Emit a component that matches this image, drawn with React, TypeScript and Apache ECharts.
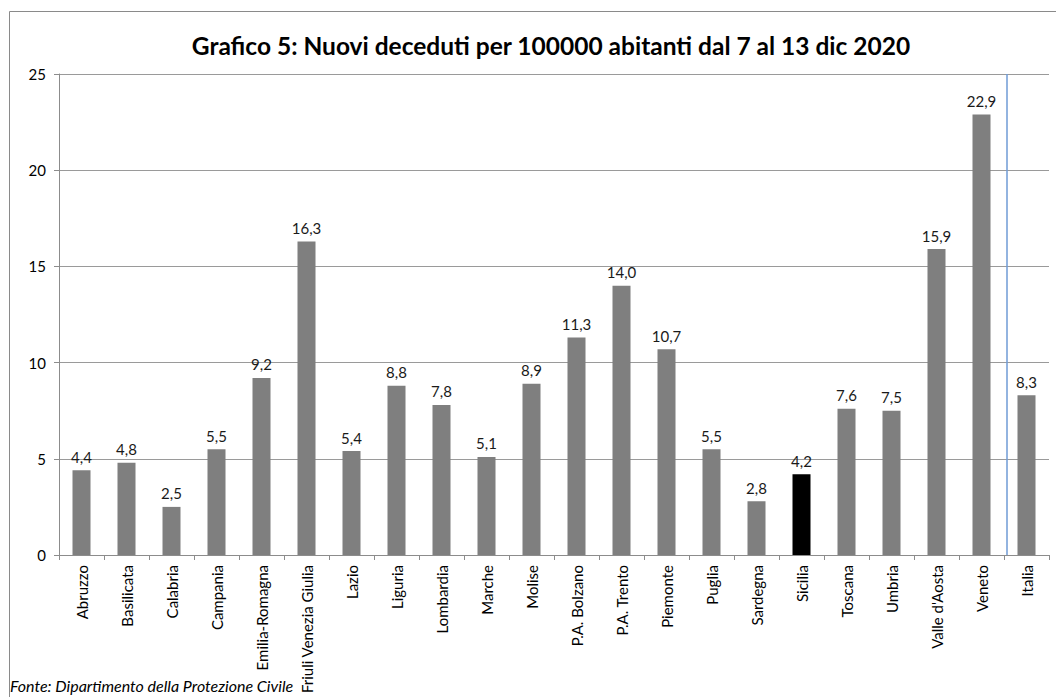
import React, { useEffect, useRef } from "react";
import * as echarts from "echarts";

const categories = [
  "Abruzzo", "Basilicata", "Calabria", "Campania", "Emilia-Romagna",
  "Friuli Venezia Giulia", "Lazio", "Liguria", "Lombardia", "Marche",
  "Molise", "P.A. Bolzano", "P.A. Trento", "Piemonte", "Puglia",
  "Sardegna", "Sicilia", "Toscana", "Umbria", "Valle d'Aosta", "Veneto", "Italia",
];
const values = [
  4.4, 4.8, 2.5, 5.5, 9.2, 16.3, 5.4, 8.8, 7.8, 5.1, 8.9, 11.3, 14.0, 10.7,
  5.5, 2.8, 4.2, 7.6, 7.5, 15.9, 22.9, 8.3,
];
const highlighted = "Sicilia";
const titleText = "Grafico 5: Nuovi deceduti per 100000 abitanti dal 7 al 13 dic 2020";
const sourceText = "Fonte: Dipartimento della Protezione Civile";

const FONT = "Lato, 'Open Sans', sans-serif";

export default function App() {
  const ref = useRef<HTMLDivElement>(null);
  useEffect(() => {
    if (!ref.current) return;
    const chart = echarts.init(ref.current, null, { renderer: "svg" });
    const option: any = {
      animation: false,
      backgroundColor: "#ffffff",
      title: {
        text: titleText,
        left: 546,
        textAlign: "center",
        top: 28,
        textStyle: { fontFamily: FONT, fontWeight: "bold", fontSize: 24.5, color: "#000" },
      },
      grid: { left: 59, top: 74, right: 7, bottom: 142, containLabel: false },
      xAxis: {
        type: "category",
        data: categories,
        axisLine: { lineStyle: { color: "#8c8c8c", width: 1 } },
        axisTick: { show: true, length: 5, lineStyle: { color: "#8c8c8c" } },
        axisLabel: {
          rotate: 90,
          interval: 0,
          margin: 10,
          fontFamily: FONT,
          fontSize: 15,
          color: "#000",
        },
      },
      yAxis: {
        type: "value",
        min: 0,
        max: 25,
        interval: 5,
        axisLine: { show: true, lineStyle: { color: "#8c8c8c" } },
        axisTick: { show: true, length: 5, lineStyle: { color: "#8c8c8c" } },
        splitLine: { lineStyle: { color: "#9a9a9a", width: 1 } },
        axisLabel: { fontFamily: FONT, fontSize: 15, color: "#000", margin: 13 },
      },
      series: [
        {
          type: "bar",
          barWidth: 18,
          data: values.map((v, i) => ({
            value: v,
            itemStyle: { color: categories[i] === highlighted ? "#000000" : "#7f7f7f" },
          })),
          label: {
            show: true,
            position: "top",
            distance: 6,
            fontFamily: FONT,
            fontSize: 15,
            color: "#1a1a1a",
            formatter: (p: any) => Number(p.value).toFixed(1).replace(".", ","),
          },
        },
      ],
    };
    chart.setOption(option);
    const n = categories.length;
    const xa = chart.convertToPixel({ xAxisIndex: 0 }, categories[n - 2]) as number;
    const xb = chart.convertToPixel({ xAxisIndex: 0 }, categories[n - 1]) as number;
    const sepX = (xa + xb) / 2 + 3;
    const yTop = chart.convertToPixel({ yAxisIndex: 0 }, 25) as number;
    const yBot = chart.convertToPixel({ yAxisIndex: 0 }, 0) as number;
    chart.setOption({
      graphic: [
        {
          type: "rect",
          shape: { x: 9.5, y: 11.5, width: 1100, height: 800 },
          style: { fill: "none", stroke: "#8a8a8a", lineWidth: 1 },
          silent: true,
        },
        {
          type: "line",
          shape: { x1: sepX, y1: yTop, x2: sepX, y2: yBot },
          style: { stroke: "#6f9bd6", lineWidth: 1.5 },
          silent: true,
        },
        {
          type: "text",
          left: 10,
          top: 677,
          style: {
            text: sourceText,
            fontFamily: FONT,
            fontStyle: "italic",
            fontSize: 16,
            fill: "#000",
          },
        },
      ],
    });
    return () => chart.dispose();
  }, []);
  return (
    <div
      ref={ref}
      style={{ position: "fixed", left: 0, top: 0, width: 1056, height: 697, overflow: "hidden" }}
    />
  );
}
